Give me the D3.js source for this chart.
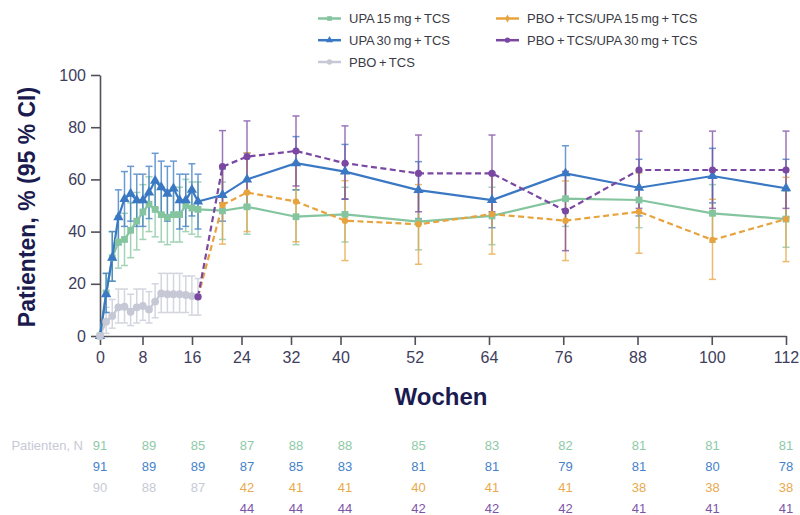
<!DOCTYPE html>
<html><head><meta charset="utf-8">
<script src="https://cdn.jsdelivr.net/npm/d3@7"></script>
<style>body{margin:0;background:#fff} svg{display:block}</style>
</head><body><svg id="c" width="800" height="515"></svg>
<script>
// ---------- DATA ----------
const xTicks = [0, 8, 16, 24, 32, 40, 52, 64, 76, 88, 100, 112];
const yTicks = [0, 20, 40, 60, 80, 100];

const upaWeeks = [0,1,2,3,4,5,6,7,8,9,10,11,12,13,14,15,16,20,24,32,40,52,64,76,88,100,112];
const upa15 =   [0,16.5,30,36,37,40.5,44,47.5,50.5,48.5,46.5,45.5,46.5,46.5,50,49,48.5, 48,49.5,45.7,46.6,43.8,46,52.6,52.1,47,44.8];
const upa15Lo = [null,9,21,26,27,30,33,37,40,38,36,35,36,36,40,39,38, 37,39,35,36,33,35,42,41.5,36,34];
const upa15Hi = [null,24,40,46,47,51,55,58,61,59,57,56,57,57,60,59,59, 59,60,56,57,55,57,63,63,58,55.5];

const upa30 =   [0,16,30,45.5,52.5,54.5,52,52,55,59.5,57,54.5,56.5,52,52,56,51.5, 54,60,66.2,63,55.9,52.1,62.3,56.8,61.3,56.6];
const upa30Lo = [null,9,21,35,42,44,42,42,45,49,47,44,46,41,42,46,41, 44,50,56,52.5,45,41.5,52,46,51,45.5];
const upa30Hi = [null,24,40,56,63,65,62,62,65,70,67,65,67,62,62,66,62, 64,70,76.4,73.4,66.8,62.7,72.9,67.7,71.9,67.7];

const pboWeeks = [0,1,2,3,4,5,6,7,8,9,10,11,12,13,14,15,16];
const pbo =   [0,5.5,7.7,11,11.2,9.3,11,11.5,10.2,13.2,16.3,16,16,16,15.7,15.3,15];
const pboLo = [null,1,3,5,5,4,5,6,5,7,9,9,9,9,9,8,8];
const pboHi = [null,11,14,18,18,16,18,18,17,20,24,24,24,24,23,23,22];

const crossWeeks = [16,20,24,32,40,52,64,76,88,100,112];
const pbo15 =   [15,50.2,55,51.5,44.2,42.8,46.7,44.2,47.6,36.8,44.8];
const pbo15Lo = [null,35.2,40,36.1,28.9,27.5,31.4,28.9,31.7,21.7,28.5];
const pbo15Hi = [null,65,70.2,66.5,59.5,58,62,59.4,62.5,52.4,60.8];
const pbo30 =   [15,64.9,68.7,70.9,66.2,62.3,62.3,47.9,63.6,63.6,63.6];
const pbo30Lo = [null,51,55,57.5,52.4,47.6,47.6,32.7,48.9,48.9,48.9];
const pbo30Hi = [null,78.7,82.4,84.3,80.5,77,77,63,78.5,78.5,78.5];

const tableWeeks = [0, 8, 16, 24, 32, 40, 52, 64, 76, 88, 100, 112];
const nUpa15 = [91,89,85,87,88,88,85,83,82,81,81,81];
const nUpa30 = [91,89,89,87,85,83,81,81,79,81,80,78];
const nPbo   = [90,88,87,null,null,null,null,null,null,null,null,null];
const nPbo15 = [null,null,null,42,41,41,40,41,41,38,38,38];
const nPbo30 = [null,null,null,44,44,44,42,42,42,41,41,41];

const labels = {
  upa15: "UPA 15 mg + TCS", upa30: "UPA 30 mg + TCS", pbo: "PBO + TCS",
  pbo15: "PBO + TCS/UPA 15 mg + TCS", pbo30: "PBO + TCS/UPA 30 mg + TCS",
  yTitle: "Patienten, % (95 % CI)", xTitle: "Wochen", nLabel: "Patienten, N"
};

// ---------- STYLE ----------
const C = { upa15:"#84c59f", upa30:"#3a78c4", pbo:"#c6c8d5", pbo15:"#e7a33e", pbo30:"#7a48a2" };
const TXT = { upa15:"#8ecaa7", upa30:"#4582cc", pbo:"#c8c9d6", pbo15:"#e9a94d", pbo30:"#7d55a8" };

const zip = (w, v, lo, hi) => w.map((d,i)=>({w:d, v:v[i], lo:lo[i], hi:hi[i]}));
const series = [
  {key:"pbo",   data: zip(pboWeeks, pbo, pboLo, pboHi),       sym: d3.symbolCircle,   size: 48, dash:null, skipFirst:false},
  {key:"upa15", data: zip(upaWeeks, upa15, upa15Lo, upa15Hi), sym: d3.symbolSquare,   size: 46, dash:null, skipFirst:false},
  {key:"upa30", data: zip(upaWeeks, upa30, upa30Lo, upa30Hi), sym: d3.symbolTriangle, size: 46, dash:null, skipFirst:false},
  {key:"pbo15", data: zip(crossWeeks, pbo15, pbo15Lo, pbo15Hi), sym: d3.symbolCircle, size: 32, dash:"6,3.5", skipFirst:true},
  {key:"pbo30", data: zip(crossWeeks, pbo30, pbo30Lo, pbo30Hi), sym: d3.symbolCircle, size: 40, dash:"6,3.5", skipFirst:false}
];
const markerOrder = ["upa15","upa30","pbo","pbo15","pbo30"];

const svg = d3.select("#c");
const FONT = "'Liberation Sans', Arial, Helvetica, sans-serif";
svg.attr("font-family", FONT);

const x = d3.scaleLinear().domain([0,112]).range([100,786]);
const xTick = d3.scaleLinear().domain([0,8,112]).range([100,142.5,786]);
const y = d3.scaleLinear().domain([0,100]).range([336,75]);

// axes
const gy = svg.append("g").attr("transform","translate(100,0)")
  .call(d3.axisLeft(y).tickValues(yTicks).tickSize(9).tickSizeOuter(0).tickPadding(5));
const gx = svg.append("g").attr("transform","translate(0,336)")
  .call(d3.axisBottom(xTick).tickValues(xTicks).tickSize(9).tickSizeOuter(0).tickPadding(7));
[gx, gy].forEach(g => {
  g.selectAll("path, line").attr("stroke","#505058").attr("stroke-width",1.6);
  g.selectAll("text").attr("fill","#3e3d5c").attr("font-size",16).attr("font-family",FONT);
});

svg.append("text").attr("x",441).attr("y",405).attr("text-anchor","middle")
  .attr("font-size",24).attr("font-weight","bold").attr("fill","#1b1b4f").text(labels.xTitle);
svg.append("text").attr("transform","translate(35,207) rotate(-90)").attr("text-anchor","middle")
  .attr("font-size",23).attr("font-weight","bold").attr("fill","#1b1b4f").text(labels.yTitle);

// error bars
const cap = 3.5;
series.forEach(s => {
  const g = svg.append("g").attr("stroke", C[s.key]).attr("stroke-width",1.5).attr("opacity",0.75);
  s.data.filter(d => d.lo != null).forEach(d => {
    const cx = x(d.w);
    g.append("line").attr("x1",cx).attr("x2",cx).attr("y1",y(d.lo)).attr("y2",y(d.hi));
    g.append("line").attr("x1",cx-cap).attr("x2",cx+cap).attr("y1",y(d.lo)).attr("y2",y(d.lo));
    g.append("line").attr("x1",cx-cap).attr("x2",cx+cap).attr("y1",y(d.hi)).attr("y2",y(d.hi));
  });
});

// lines + markers
const line = d3.line().x(d=>x(d.w)).y(d=>y(d.v));
series.forEach(s => {
  svg.append("path").datum(s.data).attr("d", line).attr("fill","none")
    .attr("stroke", C[s.key]).attr("stroke-width", 2.2)
    .attr("stroke-dasharray", s.dash);
});
markerOrder.forEach(k => {
  const s = series.find(t => t.key === k);
  svg.append("g").selectAll("path").data(s.skipFirst ? s.data.slice(1) : s.data)
    .join("path")
    .attr("transform", d => `translate(${x(d.w)},${y(d.v)})`)
    .attr("d", d3.symbol().type(s.sym).size(s.size))
    .attr("fill", C[s.key]);
});

// legend
const legend = [
  {key:"upa15", col:0, row:0, sym:d3.symbolSquare, size:22},
  {key:"upa30", col:0, row:1, sym:d3.symbolTriangle, size:22},
  {key:"pbo",   col:0, row:2, sym:d3.symbolCircle, size:22},
  {key:"pbo15", col:1, row:0, sym:d3.symbolDiamond, size:18},
  {key:"pbo30", col:1, row:1, sym:d3.symbolCircle, size:22}
];
const colX = [318, 496], rowY = [18.5, 40.2, 62];
legend.forEach(l => {
  const lx = colX[l.col], ly = rowY[l.row];
  svg.append("line").attr("x1",lx).attr("x2",lx+23).attr("y1",ly).attr("y2",ly)
    .attr("stroke",C[l.key]).attr("stroke-width",2.5);
  svg.append("path").attr("transform",`translate(${lx+11.5},${ly})`)
    .attr("d", d3.symbol().type(l.sym).size(l.size)).attr("fill",C[l.key]);
  svg.append("text").attr("x",lx+31).attr("y",ly+4.7).attr("font-size",13)
    .attr("word-spacing","-1.1px").attr("fill","#3b3b45").text(labels[l.key]);
});

// N table
const rowsN = [
  [{arr:nUpa15,key:"upa15"}],
  [{arr:nUpa30,key:"upa30"}],
  [{arr:nPbo,key:"pbo"},{arr:nPbo15,key:"pbo15"}],
  [{arr:nPbo30,key:"pbo30"}]
];
const rowBase = [449.5, 471, 492.3, 513.2];
svg.append("text").attr("x",83).attr("y",rowBase[0]).attr("text-anchor","end")
  .attr("font-size",13).attr("fill","#c8c9d6").text(labels.nLabel);
rowsN.forEach((parts, r) => {
  parts.forEach(p => {
    svg.append("g").selectAll("text").data(tableWeeks.map((w,i)=>({w, n:p.arr[i]})).filter(d=>d.n!=null))
      .join("text").attr("x", d=>x(d.w)).attr("y", rowBase[r]).attr("text-anchor","middle")
      .attr("font-size",13).attr("fill",TXT[p.key]).text(d=>d.n);
  });
});
</script></body></html>
